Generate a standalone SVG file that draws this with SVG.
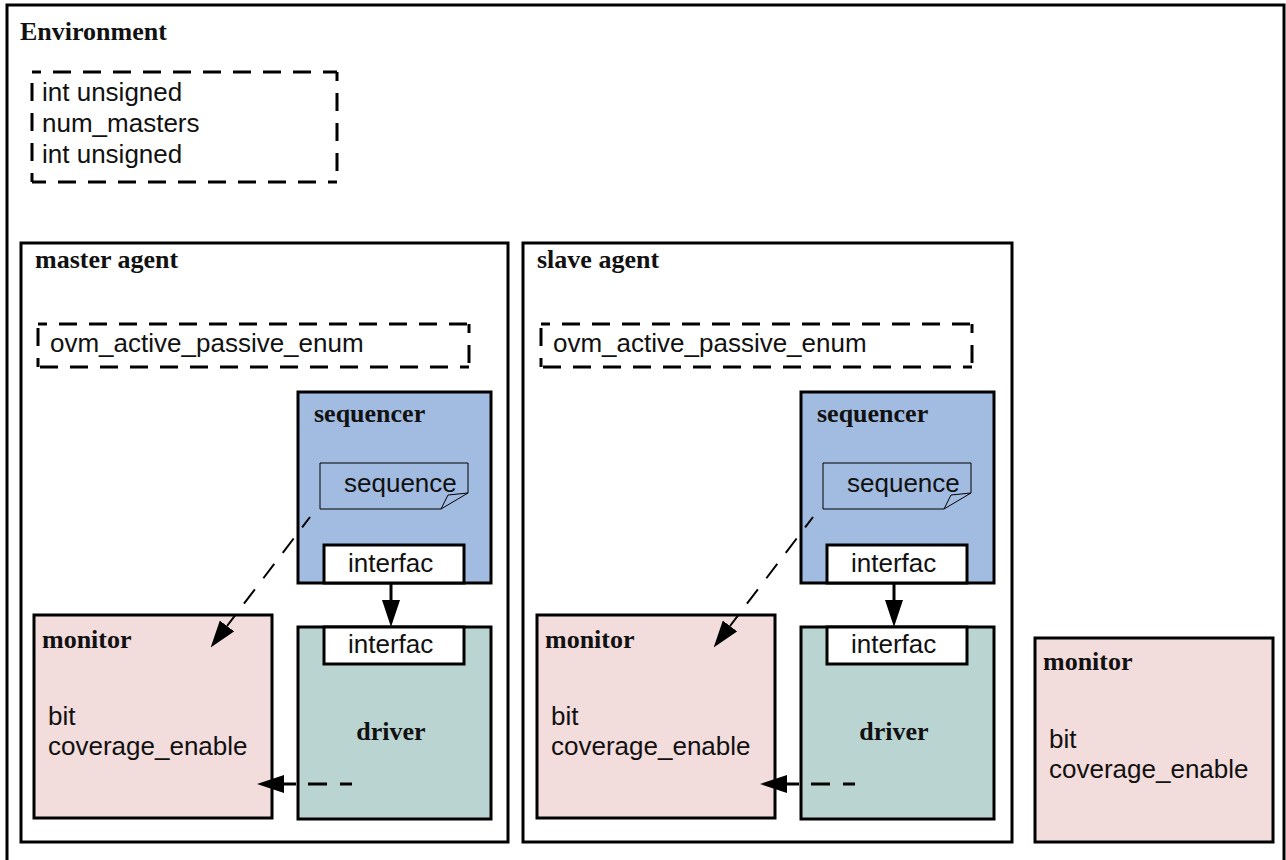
<svg xmlns="http://www.w3.org/2000/svg" width="1286" height="860" viewBox="0 0 1286 860">
<defs>
<style>
.frame{fill:#fff;stroke:#000;stroke-width:3}
.title{font-family:"Liberation Serif","Times New Roman",serif;font-weight:bold;font-size:26px;fill:#111}
.txt{font-family:"Liberation Sans",Arial,sans-serif;font-size:26px;fill:#111}
.dash{fill:none;stroke:#000;stroke-width:3;stroke-dasharray:18 12;stroke-dashoffset:9}
.seq{fill:#a2bbe0;stroke:#000;stroke-width:3}
.drv{fill:#bad4d1;stroke:#000;stroke-width:3}
.mon{fill:#f3dcdc;stroke:#000;stroke-width:3}
.port{fill:#fff;stroke:#000;stroke-width:3}
.note{fill:none;stroke:#000;stroke-width:1}
</style>
<marker id="ah" markerUnits="userSpaceOnUse" markerWidth="27" markerHeight="18" refX="0" refY="9" orient="auto" viewBox="0 0 27 18">
<path d="M0,0 L27,9 L0,18 z" fill="#000"/>
</marker>
</defs>
<rect x="0" y="0" width="1286" height="860" fill="#fff"/>

<g id="environment">
<rect class="frame" x="7" y="5" width="1277" height="880"/>
<text class="title" x="20" y="40">Environment</text>
</g>

<g id="env-config">
<path class="dash" d="M32,72 H337 M337,72 V182 M337,182 H32 M32,182 V72"/>
<text class="txt" x="42" y="101">int unsigned</text>
<text class="txt" x="42" y="132">num_masters</text>
<text class="txt" x="42" y="163">int unsigned</text>
</g>

<g id="master-agent">
<rect class="frame" x="21" y="243" width="487" height="599"/>
<text class="title" x="35" y="268">master agent</text>
<path class="dash" d="M38,324 H469 M469,324 V367 M469,367 H38 M38,367 V324"/>
<text class="txt" x="50" y="352">ovm_active_passive_enum</text>
</g>

<g id="master-sequencer">
<rect class="seq" x="298" y="392" width="193" height="191"/>
<text class="title" x="314" y="422">sequencer</text>
<path class="note" d="M320,463 H468 V493 L441,509 H320 Z M441,509 L448,495 L468,493"/>
<text class="txt" x="344" y="492">sequence</text>
<rect class="port" x="324" y="545" width="140" height="38"/>
<text class="txt" x="348" y="572">interfac</text>
</g>

<g id="master-driver">
<rect class="drv" x="298" y="627" width="193" height="192"/>
<rect class="port" x="324" y="627" width="140" height="37"/>
<text class="txt" x="348" y="653">interfac</text>
<text class="title" x="391" y="740" text-anchor="middle">driver</text>
</g>

<g id="master-monitor">
<rect class="mon" x="34" y="615" width="238" height="203"/>
<text class="title" x="42" y="648">monitor</text>
<text class="txt" x="48" y="725">bit</text>
<text class="txt" x="48" y="755">coverage_enable</text>
</g>

<g id="slave-agent">
<rect class="frame" x="523" y="243" width="489" height="599"/>
<text class="title" x="537" y="268">slave agent</text>
<path class="dash" d="M541,324 H972 M972,324 V367 M972,367 H541 M541,367 V324"/>
<text class="txt" x="553" y="352">ovm_active_passive_enum</text>
</g>

<g id="slave-sequencer" transform="translate(503,0)">
<rect class="seq" x="298" y="392" width="193" height="191"/>
<text class="title" x="314" y="422">sequencer</text>
<path class="note" d="M320,463 H468 V493 L441,509 H320 Z M441,509 L448,495 L468,493"/>
<text class="txt" x="344" y="492">sequence</text>
<rect class="port" x="324" y="545" width="140" height="38"/>
<text class="txt" x="348" y="572">interfac</text>
</g>

<g id="slave-driver" transform="translate(503,0)">
<rect class="drv" x="298" y="627" width="193" height="192"/>
<rect class="port" x="324" y="627" width="140" height="37"/>
<text class="txt" x="348" y="653">interfac</text>
<text class="title" x="391" y="740" text-anchor="middle">driver</text>
</g>

<g id="slave-monitor" transform="translate(503,0)">
<rect class="mon" x="34" y="615" width="238" height="203"/>
<text class="title" x="42" y="648">monitor</text>
<text class="txt" x="48" y="725">bit</text>
<text class="txt" x="48" y="755">coverage_enable</text>
</g>

<g id="bus-monitor">
<rect class="mon" x="1035" y="638" width="238" height="204"/>
<text class="title" x="1043" y="670">monitor</text>
<text class="txt" x="1049" y="748">bit</text>
<text class="txt" x="1049" y="778">coverage_enable</text>
</g>

<g id="connectors" fill="none" stroke="#000">
<line x1="391" y1="583" x2="391" y2="600" stroke-width="3" marker-end="url(#ah)"/>
<line x1="352" y1="784" x2="284" y2="784" stroke-width="3" stroke-dasharray="12 13 19 12 12" marker-end="url(#ah)"/>
<line x1="310" y1="517" x2="227" y2="626" stroke-width="2" stroke-dasharray="13 14 18 14 18 14 18 14 18 14 30" marker-end="url(#ah)"/>
<line x1="894" y1="583" x2="894" y2="600" stroke-width="3" marker-end="url(#ah)"/>
<line x1="855" y1="784" x2="787" y2="784" stroke-width="3" stroke-dasharray="12 13 19 12 12" marker-end="url(#ah)"/>
<line x1="813" y1="517" x2="730" y2="626" stroke-width="2" stroke-dasharray="13 14 18 14 18 14 18 14 18 14 30" marker-end="url(#ah)"/>
</g>
</svg>
